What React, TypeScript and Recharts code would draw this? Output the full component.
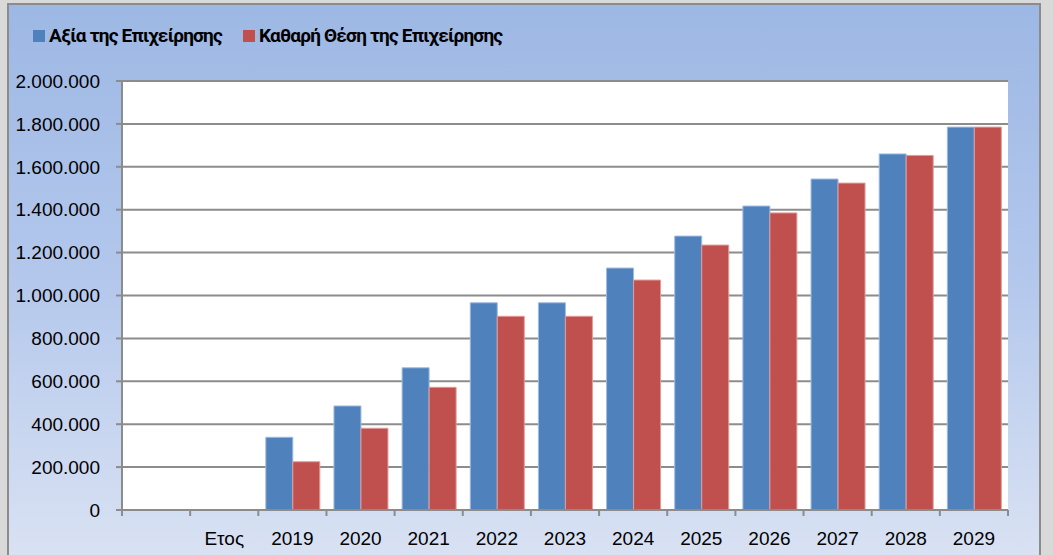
import React from 'react';
import { BarChart, Bar, XAxis, YAxis, CartesianGrid } from 'recharts';

const categories = ['', 'Ετος', '2019', '2020', '2021', '2022', '2023', '2024', '2025', '2026', '2027', '2028', '2029'];
const enterpriseValue = [null, null, 339000, 485000, 663000, 966000, 966000, 1128000, 1277000, 1417000, 1543000, 1660000, 1785000];
const netPosition = [null, null, 225000, 381000, 572000, 903000, 903000, 1072000, 1235000, 1385000, 1524000, 1653000, 1785000];
const yTicks = [0, 200000, 400000, 600000, 800000, 1000000, 1200000, 1400000, 1600000, 1800000, 2000000];

const seriesNames = ['Αξία της Επιχείρησης', 'Καθαρή Θέση της Επιχείρησης'];
const seriesColors = ['#4f81bd', '#c0504d'];
const seriesStrokes = ['#9fbbe2', '#e39a98'];

const data = categories.map((c, i) => ({ cat: c, a: enterpriseValue[i], b: netPosition[i] }));

const FONT = "'Liberation Sans', Arial, sans-serif";
const LEGEND_FONT = "Roboto, 'Liberation Sans', sans-serif";
const CHART_W = 1030;
const CHART_H = 550;
const MARGIN = { top: 76, right: 31, bottom: 0, left: 0 };
const Y_W = 113;
const X_H = 45;
const PLOT_W = CHART_W - MARGIN.left - MARGIN.right - Y_W;
const BAND = PLOT_W / categories.length;

const fmt = (v: number) => String(v).replace(/\B(?=(\d{3})+(?!\d))/g, '.');

const XTick = (props: any) => {
  const { x, y, payload, index } = props;
  const half = BAND / 2;
  const isLast = index === categories.length - 1;
  return (
    <g>
      <line x1={x - half} x2={x - half} y1={y - 8} y2={y - 2} stroke="#8c8c8c" strokeWidth={2} />
      {isLast && <line x1={x + half} x2={x + half} y1={y - 8} y2={y - 2} stroke="#8c8c8c" strokeWidth={2} />}
      <text x={x} y={y + 20} textAnchor="middle" dominantBaseline="central" fontSize={19} fontFamily={FONT} fill="#000">
        {payload.value}
      </text>
    </g>
  );
};

export default function App() {
  return (
    <div style={{ position: 'absolute', left: 0, top: 0, width: 1053, height: 555, background: '#d9d9d9', overflow: 'hidden' }}>
      <div
        style={{
          position: 'absolute',
          left: 7,
          top: 3,
          width: 1034,
          height: 600,
          boxSizing: 'border-box',
          border: '2px solid #8c8c8c',
          background: 'linear-gradient(to bottom, #9db8e4 0%, #b3c7ec 45%, #dfe6f4 100%)',
        }}
      >
        <div style={{ position: 'absolute', left: 24, top: 19, display: 'flex', alignItems: 'center', fontFamily: LEGEND_FONT, fontWeight: 'bold', fontSize: 19, letterSpacing: -0.8, color: '#000' }}>
          {seriesNames.map((n, i) => (
            <div key={n} style={{ display: 'flex', alignItems: 'center', marginRight: 21 }}>
              <span style={{ display: 'inline-block', width: 12, height: 12, background: seriesColors[i], marginRight: 4 }} />
              <span>{n}</span>
            </div>
          ))}
        </div>
        <BarChart
          width={CHART_W}
          height={CHART_H}
          data={data}
          margin={MARGIN}
          barCategoryGap="11%"
          barGap={0}
          style={{ position: 'absolute', left: 0, top: 0 }}
        >
          <CartesianGrid vertical={false} stroke="#8c8c8c" strokeWidth={2} fill="#ffffff" />
          <XAxis
            dataKey="cat"
            height={X_H}
            axisLine={{ stroke: '#8c8c8c', strokeWidth: 2 }}
            tickLine={false}
            interval={0}
            tick={<XTick />}
          />
          <YAxis
            width={Y_W}
            domain={[0, 2000000]}
            ticks={yTicks}
            interval={0}
            tickFormatter={fmt}
            axisLine={{ stroke: '#8c8c8c', strokeWidth: 2 }}
            tickLine={{ stroke: '#8c8c8c', strokeWidth: 2 }}
            tickSize={6}
            tickMargin={16}
            tick={{ fontSize: 19, fontFamily: FONT, fill: '#000' }}
          />
          <Bar dataKey="a" name={seriesNames[0]} fill={seriesColors[0]} stroke={seriesStrokes[0]} strokeWidth={1} isAnimationActive={false} />
          <Bar dataKey="b" name={seriesNames[1]} fill={seriesColors[1]} stroke={seriesStrokes[1]} strokeWidth={1} isAnimationActive={false} />
        </BarChart>
      </div>
    </div>
  );
}
